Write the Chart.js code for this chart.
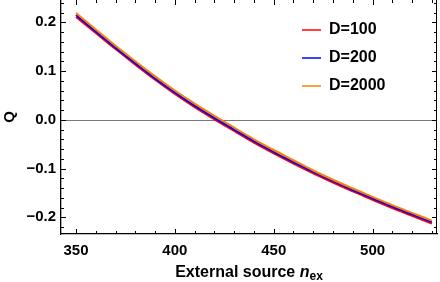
<!DOCTYPE html>
<html>
<head>
<meta charset="utf-8">
<script src="https://cdn.jsdelivr.net/npm/chart.js@4.4.1/dist/chart.umd.min.js"></script>
<style>
  html, body { margin: 0; padding: 0; background: #fff; }
</style>
</head>
<body>
<canvas id="qChart" width="440" height="282"></canvas>
<script>
// values
const nex = [350, 360, 370, 380, 390, 400, 410, 420, 430, 440, 450, 460, 470, 480, 490, 500, 510, 520, 530]
const qD100 = [0.211, 0.178, 0.145, 0.113, 0.082, 0.053, 0.026, 0.001, -0.023, -0.047, -0.069, -0.090, -0.110, -0.129, -0.147, -0.164, -0.181, -0.197, -0.213]
const qD200 = [0.215, 0.181, 0.148, 0.116, 0.085, 0.056, 0.029, 0.004, -0.020, -0.044, -0.066, -0.087, -0.107, -0.126, -0.144, -0.161, -0.178, -0.194, -0.210]
const qD2000 = [0.219, 0.185, 0.152, 0.120, 0.089, 0.060, 0.033, 0.008, -0.016, -0.040, -0.062, -0.083, -0.104, -0.123, -0.141, -0.158, -0.175, -0.191, -0.207]

const seriesNames = ["D=100", "D=200", "D=2000"]
const seriesColors = ["#ff0000", "#0000ff", "#ff8000"]

const xTicks = [350, 400, 450, 500]
const xTickLabels = ["350", "400", "450", "500"]
const yTicks = [-0.2, -0.1, 0, 0.1, 0.2]
const yTickLabels = ["\u22120.2", "\u22120.1", "0.0", "0.1", "0.2"]

const fontFamily = "'Liberation Sans', Arial, sans-serif"

// zero line + inward frame ticks (Mathematica style)
const frameTicks = {
  id: "frameTicks",
  beforeDatasetsDraw(chart) {
    const { ctx, chartArea: a, scales: { y } } = chart
    const y0 = Math.round(y.getPixelForValue(0)) + 0.5
    ctx.save()
    ctx.strokeStyle = "#777"
    ctx.lineWidth = 1
    ctx.beginPath()
    ctx.moveTo(a.left, y0)
    ctx.lineTo(a.right, y0)
    ctx.stroke()
    ctx.restore()
  },
  afterDatasetsDraw(chart) {
    const { ctx, chartArea: a, scales: { x, y } } = chart
    ctx.save()
    ctx.strokeStyle = "#000"
    ctx.lineWidth = 1
    ctx.beginPath()
    for (let v = 350; v <= 530; v += 10) {
      const px = Math.round(x.getPixelForValue(v)) + 0.5
      const len = v % 50 === 0 ? 5 : 3
      ctx.moveTo(px, a.bottom)
      ctx.lineTo(px, a.bottom - len)
      ctx.moveTo(px, a.top)
      ctx.lineTo(px, a.top + len)
    }
    for (let i = -11; i <= 12; i++) {
      const py = Math.round(y.getPixelForValue(i * 0.02)) + 0.5
      const len = i % 5 === 0 ? 5 : 3
      ctx.moveTo(a.left, py)
      ctx.lineTo(a.left + len, py)
      ctx.moveTo(a.right, py)
      ctx.lineTo(a.right - len, py)
    }
    const rx = Math.round(a.right) - 0.5
    ctx.moveTo(rx, a.top)
    ctx.lineTo(rx, a.bottom)
    ctx.stroke()
    ctx.restore()
  },
  afterDraw(chart) {
    const { ctx, chartArea: a } = chart
    ctx.save()
    ctx.fillStyle = "#000"

    // legend
    ctx.font = "bold 16px " + fontFamily
    chart.data.datasets.forEach((ds, i) => {
      const cy = 30 + i * 28
      ctx.strokeStyle = ds.borderColor
      ctx.lineWidth = 1.5
      ctx.beginPath()
      ctx.moveTo(302, cy)
      ctx.lineTo(321, cy)
      ctx.stroke()
      ctx.textBaseline = "middle"
      ctx.fillText(ds.label, 329, cy)
    })

    // x axis title: External source n_ex
    ctx.textBaseline = "alphabetic"
    const main = "External source "
    ctx.font = "bold 16px " + fontFamily
    const w1 = ctx.measureText(main).width
    ctx.font = "italic bold 16px " + fontFamily
    const w2 = ctx.measureText("n").width
    ctx.font = "bold 12px " + fontFamily
    const w3 = ctx.measureText("ex").width
    let tx = (a.left + a.right) / 2 - (w1 + w2 + w3) / 2
    ctx.font = "bold 16px " + fontFamily
    ctx.fillText(main, tx, 277)
    tx += w1
    ctx.font = "italic bold 16px " + fontFamily
    ctx.fillText("n", tx, 277)
    tx += w2
    ctx.font = "bold 12px " + fontFamily
    ctx.fillText("ex", tx, 280)
    ctx.restore()
  }
}

const series = [qD100, qD200, qD2000]

const ctx = document.getElementById("qChart").getContext("2d")
const qChart = new Chart(ctx, {
  type: "line",
  data: {
    datasets: series.map((vals, i) => ({
      label: seriesNames[i],
      data: vals.map((q, j) => ({ x: nex[j], y: q })),
      borderColor: seriesColors[i],
      borderWidth: 2,
      pointRadius: 0,
      fill: false,
      cubicInterpolationMode: "monotone",
      order: 3 - i,
    })),
  },
  options: {
    responsive: false,
    animation: false,
    layout: { padding: { top: 0, right: 3, bottom: 0, left: 0 } },
    plugins: {
      legend: { display: false },
      tooltip: { enabled: false },
    },
    scales: {
      x: {
        type: "linear",
        min: 342.4,
        max: 532.6,
        afterBuildTicks(scale) {
          scale.ticks = xTicks.map((v) => ({ value: v }))
        },
        afterFit(scale) {
          scale.height = 48
          scale.paddingLeft = 0
          scale.paddingRight = 0
        },
        ticks: {
          autoSkip: false,
          maxRotation: 0,
          padding: 8,
          color: "#000",
          font: { family: fontFamily, size: 15, weight: "bold" },
          callback: (v) => xTickLabels[xTicks.indexOf(v)],
        },
        grid: { display: false, drawTicks: false, tickLength: 0 },
        border: { display: true, color: "#000", width: 1.3 },
      },
      y: {
        min: -0.2343,
        max: 0.2457,
        afterBuildTicks(scale) {
          scale.ticks = yTicks.map((v) => ({ value: v }))
        },
        afterFit(scale) {
          scale.width = 61
          scale.paddingTop = 0
          scale.paddingBottom = 0
        },
        ticks: {
          autoSkip: false,
          padding: 5,
          color: "#000",
          font: { family: fontFamily, size: 15, weight: "bold" },
          callback: (v) => yTickLabels[yTicks.indexOf(v)],
        },
        grid: { display: false, drawTicks: false, tickLength: 0 },
        border: { display: true, color: "#000", width: 1.3 },
        title: {
          display: true,
          text: "Q",
          color: "#000",
          font: { family: fontFamily, size: 15, weight: "bold" },
          padding: { top: 1, bottom: 0 },
        },
      },
    },
  },
  plugins: [frameTicks],
})
</script>
</body>
</html>
